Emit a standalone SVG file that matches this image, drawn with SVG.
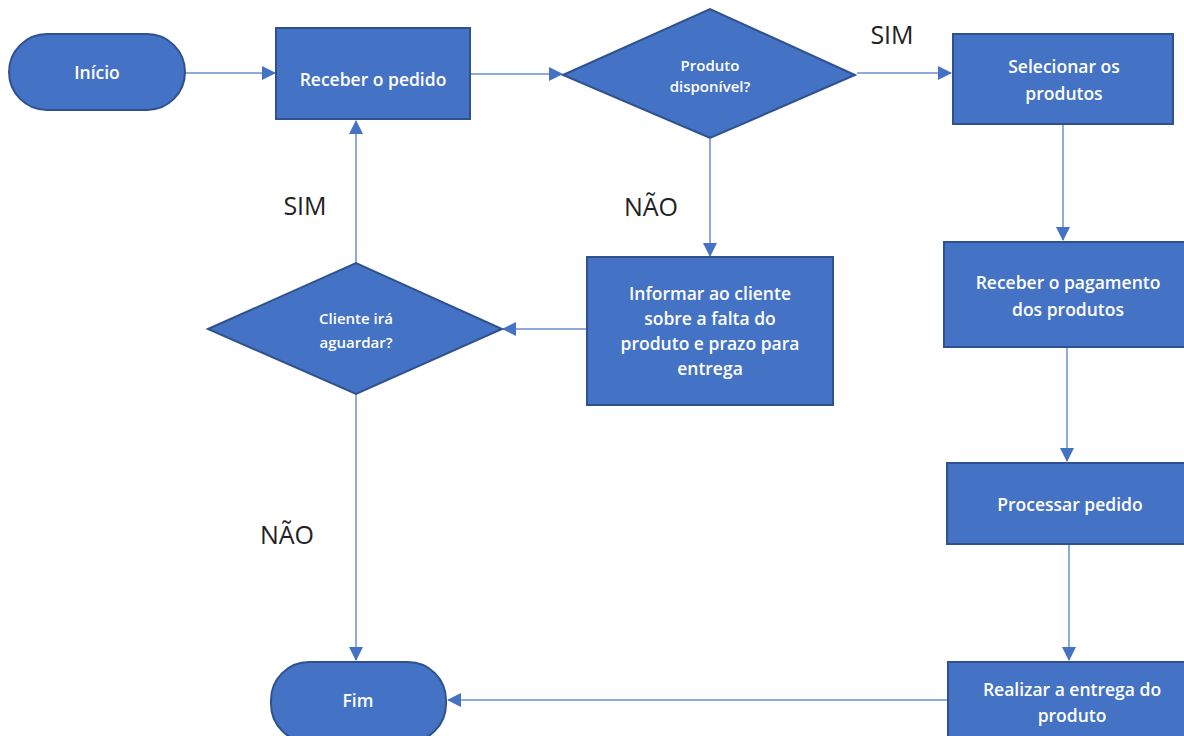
<svg xmlns="http://www.w3.org/2000/svg" width="1184" height="736" viewBox="0 0 1184 736">
<style>
.n{fill:#4472C4;stroke:#2F528F;stroke-width:2}
.t{fill:#fff;font-family:"Open Sans","Noto Sans",sans-serif;font-weight:600;font-size:17.5px;text-anchor:middle}
.s{font-size:15px}
.c{stroke:#8FAADC;stroke-width:2;fill:none;marker-end:url(#a)}
.l{fill:#222;font-family:"Open Sans","Noto Sans",sans-serif;font-size:25px;text-anchor:middle}
</style>
<defs>
<marker id="a" markerUnits="userSpaceOnUse" markerWidth="14" markerHeight="14" refX="13" refY="7" orient="auto">
<path d="M0,0 L14,7 L0,14 Z" fill="#4472C4"/>
</marker>
</defs>
<rect width="1184" height="736" fill="#fff"/>
<g id="connectors">
<path class="c" d="M185,73 H275"/>
<path class="c" d="M470,74 H562"/>
<path class="c" d="M857,73 H951"/>
<path class="c" d="M1063,124 V240"/>
<path class="c" d="M1067,347 V461"/>
<path class="c" d="M1069,544 V660"/>
<path class="c" d="M948,700 H448"/>
<path class="c" d="M710,139 V256"/>
<path class="c" d="M587,329 H503"/>
<path class="c" d="M356,263 V121"/>
<path class="c" d="M356,394 V660"/>
</g>
<g id="labels">
<text class="l" x="892" y="44">SIM</text>
<text class="l" x="651" y="216">NÃO</text>
<text class="l" x="305" y="215">SIM</text>
<text class="l" x="287" y="544">NÃO</text>
</g>
<g id="inicio">
<rect class="n" x="9" y="34" width="176" height="76" rx="38"/>
<text class="t" x="97" y="79">Início</text>
</g>
<g id="receber-pedido">
<rect class="n" x="276" y="28" width="194" height="91"/>
<text class="t" x="373" y="86">Receber o pedido</text>
</g>
<g id="produto-disponivel">
<polygon class="n" points="563,75 710,9 855,75 710,138"/>
<text class="t s" x="710" y="71">Produto</text>
<text class="t s" x="710" y="92">disponível?</text>
</g>
<g id="selecionar">
<rect class="n" x="953" y="34" width="220" height="90"/>
<text class="t" x="1064" y="73">Selecionar os</text>
<text class="t" x="1064" y="100">produtos</text>
</g>
<g id="pagamento">
<rect class="n" x="944" y="242" width="242" height="105"/>
<text class="t" x="1068" y="289">Receber o pagamento</text>
<text class="t" x="1068" y="316">dos produtos</text>
</g>
<g id="processar">
<rect class="n" x="947" y="463" width="240" height="81"/>
<text class="t" x="1070" y="511">Processar pedido</text>
</g>
<g id="entrega">
<rect class="n" x="948" y="662" width="240" height="80"/>
<text class="t" x="1072" y="696">Realizar a entrega do</text>
<text class="t" x="1072" y="722">produto</text>
</g>
<g id="informar">
<rect class="n" x="587" y="257" width="246" height="148"/>
<text class="t" x="710" y="300">Informar ao cliente</text>
<text class="t" x="710" y="325">sobre a falta do</text>
<text class="t" x="710" y="350">produto e prazo para</text>
<text class="t" x="710" y="375">entrega</text>
</g>
<g id="cliente-aguardar">
<polygon class="n" points="208,329 356,263 502,329 356,394"/>
<text class="t s" x="356" y="324">Cliente irá</text>
<text class="t s" x="356" y="348">aguardar?</text>
</g>
<g id="fim">
<rect class="n" x="271" y="662" width="175" height="80" rx="38"/>
<text class="t" x="358" y="707">Fim</text>
</g>
</svg>
